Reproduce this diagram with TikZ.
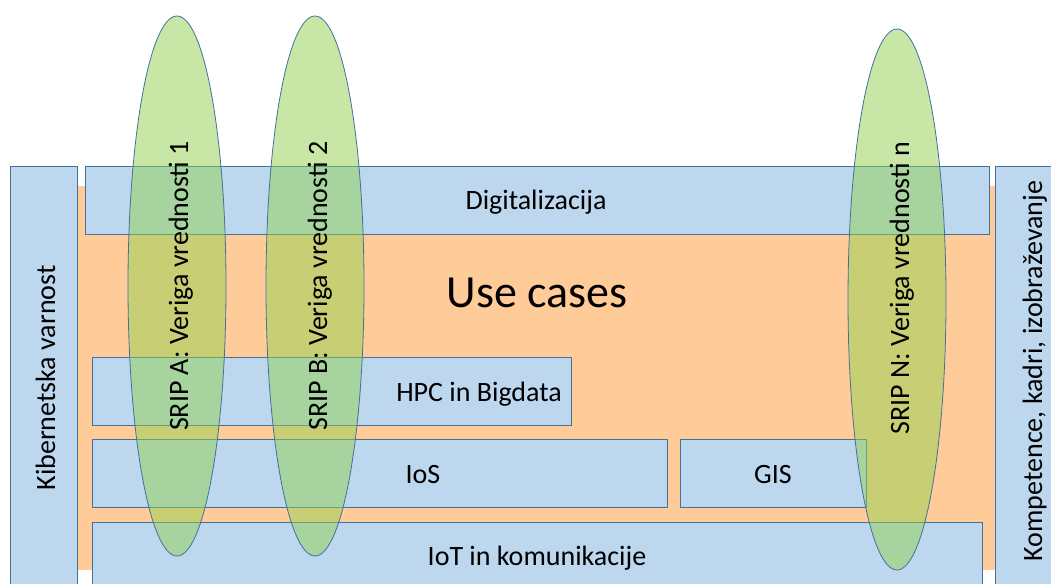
\documentclass[tikz,border=0pt]{standalone}
\usepackage{fontspec}
\setmainfont{Carlito}
\usetikzlibrary{shapes.geometric}
\definecolor{boxblue}{HTML}{BDD7EE}
\definecolor{boxline}{HTML}{41719C}
\definecolor{bgorange}{HTML}{FFCC99}
\definecolor{sripgreen}{HTML}{92D050}
\begin{document}
\begin{tikzpicture}[x=1pt,y=-1pt,
  box/.style={draw=boxline, fill=boxblue, line width=0.8pt, inner sep=0pt, outer sep=0pt, anchor=north west},
  lbl/.style={font=\fontsize{28}{32}\selectfont, inner sep=0pt, text=black},
  big/.style={font=\fontsize{46}{52}\selectfont, inner sep=0pt, text=black},
  sripell/.style={ellipse, draw=boxline, line width=0.8pt, fill=sripgreen, fill opacity=0.5, inner sep=0pt, minimum width=98pt, minimum height=540pt}]
\useasboundingbox (0,0) rectangle (1051,583);
\fill[white] (0,0) rectangle (1051,583);
% background
\node[fill=bgorange, inner sep=0pt, outer sep=0pt, minimum width=919pt, minimum height=384pt, anchor=north west] (bg) at (77,186) {};
% boxes
\node[box, minimum width=67pt, minimum height=430pt] (kib) at (10,166) {};
\node[box, minimum width=904pt, minimum height=68pt] (dig) at (85,166) {};
\node[box, minimum width=70pt, minimum height=430pt] (komp) at (995,166) {};
\node[box, minimum width=479pt, minimum height=68pt] (hpc) at (92,357) {};
\node[box, minimum width=575pt, minimum height=68pt] (ios) at (92,439) {};
\node[box, minimum width=186pt, minimum height=68pt] (gis) at (680,439) {};
\node[box, minimum width=890pt, minimum height=80pt] (iot) at (92,522) {};
% box texts
\node[lbl, anchor=base] (tdig) at (536,209) {Digitalizacija};
\node[big, anchor=base] (tuse) at (537,307) {Use cases};
\node[lbl, anchor=base east] (thpc) at (562,401) {HPC in Bigdata};
\node[lbl, anchor=base] (tios) at (423,483) {IoS};
\node[lbl, anchor=base] (tgis) at (773,483) {GIS};
\node[lbl, anchor=base] (tiot) at (537,565) {IoT in komunikacije};
\node[lbl, anchor=base, rotate=90] (tkib) at (55,378) {Kibernetska varnost};
\node[lbl, anchor=base, rotate=90] (tkomp) at (1042,371) {Kompetence, kadri, izobraževanje};
% SRIP ellipses
\node[sripell] (ea) at (177,286) {};
\node[sripell] (eb) at (315,286) {};
\node[sripell, minimum height=541pt] (en) at (897,299.5) {};
\node[lbl, anchor=base, rotate=90] (ta) at (188,286) {SRIP A: Veriga vrednosti 1};
\node[lbl, anchor=base, rotate=90] (tb) at (327,286) {SRIP B: Veriga vrednosti 2};
\node[lbl, anchor=base, rotate=90] (tn) at (909,288) {SRIP N: Veriga vrednosti n};
\end{tikzpicture}
\end{document}
